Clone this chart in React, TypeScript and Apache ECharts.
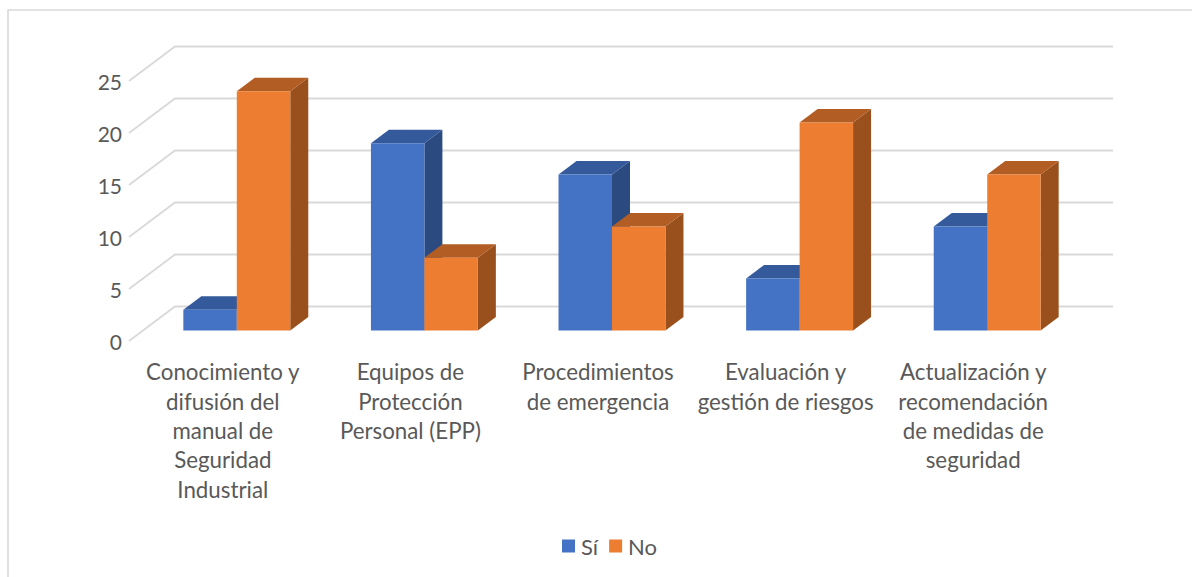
import React, { useEffect, useRef } from "react";
import * as echarts from "echarts";

const categories = [
  "Conocimiento y\ndifusión del\nmanual de\nSeguridad\nIndustrial",
  "Equipos de\nProtección\nPersonal (EPP)",
  "Procedimientos\nde emergencia",
  "Evaluación y\ngestión de riesgos",
  "Actualización y\nrecomendación\nde medidas de\nseguridad",
];
const siValues = [2, 18, 15, 5, 10];
const noValues = [23, 7, 10, 20, 15];
const yTicks = [0, 5, 10, 15, 20, 25];

const FONT = "Lato, Carlito, 'Open Sans', sans-serif";
const TEXT = "#595959";
const GRID = "#d9d9d9";
// 3D projection: wall depth, bar front plane offset, bar depth
const WALL = [46, -34.5];
const BAR_FRONT = [14, -10.5];
const BAR_DEPTH = [18, -13.5];
const BAR_FRACTION = 0.285;

function barRenderer(side: number, front: string, top: string, right: string) {
  return (_params: any, api: any) => {
    const base = api.coord([api.value(0), 0]);
    const head = api.coord([api.value(0), api.value(1)]);
    const w = api.size([1, 0])[0] * BAR_FRACTION;
    const x0 = base[0] + BAR_FRONT[0] + (side < 0 ? -w : 0);
    const x1 = x0 + w;
    const yb = base[1] + BAR_FRONT[1];
    const yt = head[1] + BAR_FRONT[1];
    const [dx, dy] = BAR_DEPTH;
    return {
      type: "group",
      children: [
        { type: "polygon", shape: { points: [[x1, yt], [x1 + dx, yt + dy], [x1 + dx, yb + dy], [x1, yb]] }, style: { fill: right } },
        { type: "polygon", shape: { points: [[x0, yt], [x0 + dx, yt + dy], [x1 + dx, yt + dy], [x1, yt]] }, style: { fill: top } },
        { type: "rect", shape: { x: x0, y: yt, width: w, height: yb - yt }, style: { fill: front } },
      ],
    };
  };
}

function wallRenderer(params: any, api: any) {
  const y = api.coord([0, api.value(0)])[1];
  const cs = params.coordSys;
  const [dx, dy] = WALL;
  return {
    type: "polyline",
    shape: { points: [[cs.x, y], [cs.x + dx, y + dy], [cs.x + cs.width + dx, y + dy]] },
    style: { stroke: GRID, lineWidth: 1.8, fill: "none" },
  };
}

export default function App() {
  const ref = useRef<HTMLDivElement>(null);
  useEffect(() => {
    document.body.style.margin = "0";
    const chart = echarts.init(ref.current!, undefined, { renderer: "svg" });
    chart.setOption({
      animation: false,
      backgroundColor: "#ffffff",
      textStyle: { fontFamily: FONT },
      graphic: [
        {
          type: "polyline",
          silent: true,
          shape: { points: [[8, 577], [8, 10], [1192, 10]] },
          style: { stroke: GRID, lineWidth: 1.6, fill: "none" },
        },
      ],
      legend: {
        data: ["Sí", "No"],
        left: 557,
        top: 530,
        icon: "rect",
        itemWidth: 13,
        itemHeight: 13,
        itemGap: 11,
        selectedMode: false,
        textStyle: { color: TEXT, fontSize: 22, fontFamily: FONT, padding: [0, 0, 3, 1] },
      },
      grid: { left: 129, top: 81, width: 938, height: 260, containLabel: false },
      xAxis: {
        type: "category",
        data: categories,
        axisLine: { show: false },
        axisTick: { show: false },
        splitLine: { show: false },
        axisLabel: {
          interval: 0,
          margin: 16,
          color: TEXT,
          fontSize: 22.3,
          lineHeight: 29.4,
          fontFamily: FONT,
          verticalAlign: "top",
        },
      },
      yAxis: {
        type: "value",
        min: 0,
        max: 25,
        interval: 5,
        axisLine: { show: false },
        axisTick: { show: false },
        splitLine: { show: false },
        axisLabel: { color: TEXT, fontSize: 21, margin: 7, fontFamily: FONT, padding: [0, 0, 2, 0] },
      },
      series: [
        {
          type: "custom",
          name: "wall",
          z: 1,
          silent: true,
          renderItem: wallRenderer,
          encode: { y: 0 },
          data: yTicks.map((v) => [v]),
        },
        {
          type: "custom",
          name: "Sí",
          z: 2,
          itemStyle: { color: "#4472C4" },
          renderItem: barRenderer(-1, "#4472C4", "#345A9C", "#2B4A80"),
          encode: { x: 0, y: 1 },
          data: siValues.map((v, i) => [i, v]),
        },
        {
          type: "custom",
          name: "No",
          z: 3,
          itemStyle: { color: "#ED7D31" },
          renderItem: barRenderer(1, "#ED7D31", "#B25D23", "#99501C"),
          encode: { x: 0, y: 1 },
          data: noValues.map((v, i) => [i, v]),
        },
      ],
    });
    return () => chart.dispose();
  }, []);
  return <div ref={ref} style={{ width: 1192, height: 577, position: "absolute", left: 0, top: 0 }} />;
}
